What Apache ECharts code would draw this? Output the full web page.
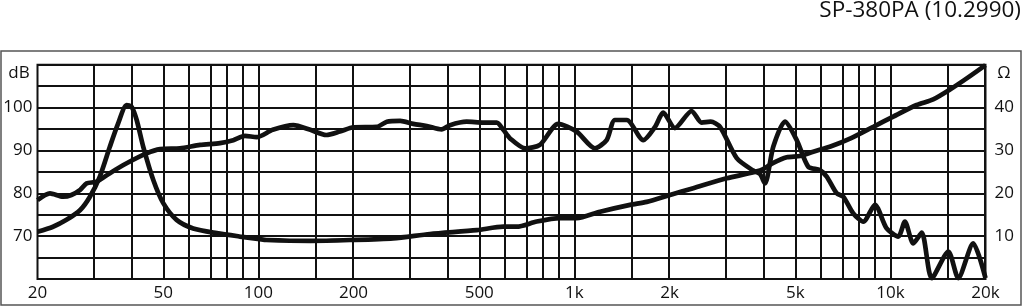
<!DOCTYPE html>
<html>
<head>
<meta charset="utf-8">
<script src="https://cdn.jsdelivr.net/npm/echarts@6/dist/echarts.min.js"></script>
<style>
html,body{margin:0;padding:0;background:#fff;}
#c{width:1024px;height:307px;}
</style>
</head>
<body>
<div id="c"></div>
<script>
// Frequency response (dB) : [Hz, dB]
const splPoints = [
  [20,78.4],[21.9,80.0],[24.1,79.2],[25.6,79.6],[27.3,80.8],[28.6,82.3],[30.8,82.7],[33.9,84.7],
  [38.3,87.0],[44.3,89.3],[48.9,90.3],[56.5,90.5],[65.4,91.3],[75.6,91.7],[83.3,92.4],[90.7,93.4],
  [98.8,93.1],[111,94.8],[129,95.9],[146,94.8],[164,93.6],[181,94.4],[200,95.4],[237,95.5],
  [255,96.7],[281,96.9],[309,96.2],[341,95.7],[380,94.9],[404,95.9],[456,96.7],[515,96.5],
  [568,96.5],[596,94.8],[626,92.8],[698,90.5],[778,91.3],[889,96.2],[1016,94.4],[1161,90.5],
  [1265,92.4],[1344,97.1],[1464,97.1],[1652,92.4],[1800,95.5],[1910,98.8],[2080,95.2],[2350,99.2],
  [2528,96.5],[2700,96.7],[2890,95.5],[3264,88.2],[3680,85.3],[3866,84.5],[4010,82.3],[4262,90.9],
  [4640,96.7],[5054,92.4],[5497,86.2],[5985,85.4],[6288,83.9],[6763,80.0],[7096,79.2],[7632,75.3],
  [8212,73.4],[8935,77.3],[9732,71.8],[10592,69.9],[11117,73.4],[11820,68.3],[12565,70.8],[13520,60.2],
  [15257,66.4],[16400,60.2],[18280,68.3],[20000,60.2]
];
// Impedance (Ohm) : [Hz, Ohm]
const impPoints = [
  [20,11.0],[22.4,12.2],[24.7,13.8],[27.3,16.1],[29.3,19.2],[31.5,23.9],[33.9,30.9],[36,36.3],
  [38.3,40.6],[39.7,40.2],[41.2,37.1],[43.2,30.9],[46.5,23.1],[50,17.7],[55.1,13.8],[62.2,11.8],
  [73.8,10.7],[87.5,9.9],[101,9.3],[106,9.1],[146,8.9],[195,9.1],[267,9.5],[349,10.5],
  [491,11.4],[596,12.2],[657,12.2],[760,13.4],[900,14.2],[1016,14.2],[1206,15.7],[1500,17.3],
  [1694,18.0],[2007,19.6],[2378,21.2],[3034,23.5],[3868,25.3],[4262,27.1],[4700,28.4],[5184,28.7],
  [5700,29.7],[6463,30.9],[7483,32.8],[8832,35.5],[10210,37.9],[12110,40.6],[13660,41.9],[15440,44.2],
  [17440,46.8],[20000,49.9]
];
// Vertical grid frequencies
const gridFreqs = [20,30,40,50,60,70,80,90,100,150,200,300,400,500,600,700,800,900,
  1000,1500,2000,3000,4000,5000,6000,7000,8000,9000,10000,15000,20000];
// Labelled frequencies
const labelFreqs = [20,50,100,200,500,1000,2000,5000,10000,20000];
const dbLabels = [70,80,90,100];
const ohmLabels = [10,20,30,40];
const title = 'SP-380PA (10.2990)';

const L = Math.log10;
const FONT = '"Open Sans", "Noto Sans", sans-serif';
const fmtF = v => { const f = Math.round(Math.pow(10, v)); return f >= 1000 ? (f/1000) + 'k' : String(f); };

const chart = echarts.init(document.getElementById('c'), null, {renderer: 'canvas'});
chart.setOption({
  animation: false,
  backgroundColor: '#fff',
  grid: {left: 37.5, right: 38.5, top: 64.7, bottom: 28, show: true, borderColor: '#111', borderWidth: 2, backgroundColor: 'transparent'},
  xAxis: {
    type: 'value', min: L(20), max: L(20000),
    axisLine: {show: false}, axisTick: {show: false}, splitLine: {show: false},
    axisLabel: {customValues: labelFreqs.map(L), formatter: fmtF, color: '#111', fontSize: 17, fontFamily: FONT, margin: 6, showMinLabel: true, showMaxLabel: true}
  },
  yAxis: [
    {type: 'value', min: 60, max: 110, interval: 5,
     axisLine: {show: false}, axisTick: {show: false},
     splitLine: {show: true, lineStyle: {color: '#111', width: 2}},
     axisLabel: {color: '#111', fontSize: 17, fontFamily: FONT, margin: 5,
       formatter: v => dbLabels.indexOf(v) >= 0 ? String(v) : ''}},
    {type: 'value', min: 0, max: 50, interval: 5, position: 'right',
     axisLine: {show: false}, axisTick: {show: false}, splitLine: {show: false},
     axisLabel: {color: '#111', fontSize: 17, fontFamily: FONT, margin: 9,
       formatter: v => ohmLabels.indexOf(v) >= 0 ? String(v) : ''}}
  ],
  series: [
    {type: 'line', data: [], z: 1, silent: true,
     markLine: {silent: true, symbol: 'none', label: {show: false},
       lineStyle: {color: '#111', width: 2, type: 'solid'},
       data: gridFreqs.map(f => ({xAxis: L(f)}))}},
    {type: 'line', yAxisIndex: 0, data: splPoints.map(p => [L(p[0]), p[1]]), smooth: 0.25,
     showSymbol: false, lineStyle: {color: '#111', width: 4.7}, z: 5},
    {type: 'line', yAxisIndex: 1, data: impPoints.map(p => [L(p[0]), p[1]]), smooth: 0.25,
     showSymbol: false, lineStyle: {color: '#111', width: 4.7}, z: 5}
  ],
  graphic: [
    {type: 'rect', shape: {x: 1, y: 51, width: 1020, height: 254}, style: {fill: 'none', stroke: '#555', lineWidth: 1.5}, z: 0},
    {type: 'text', x: 1021, y: 11, style: {text: title, font: '22.5px ' + FONT, fill: '#111', textAlign: 'right', textVerticalAlign: 'middle'}},
    {type: 'text', x: 19, y: 73, style: {text: 'dB', font: '17px ' + FONT, fill: '#111', textAlign: 'center', textVerticalAlign: 'middle'}},
    {type: 'text', x: 1004, y: 73, style: {text: 'Ω', font: '17px ' + FONT, fill: '#111', textAlign: 'center', textVerticalAlign: 'middle'}}
  ]
});
</script>
</body>
</html>
